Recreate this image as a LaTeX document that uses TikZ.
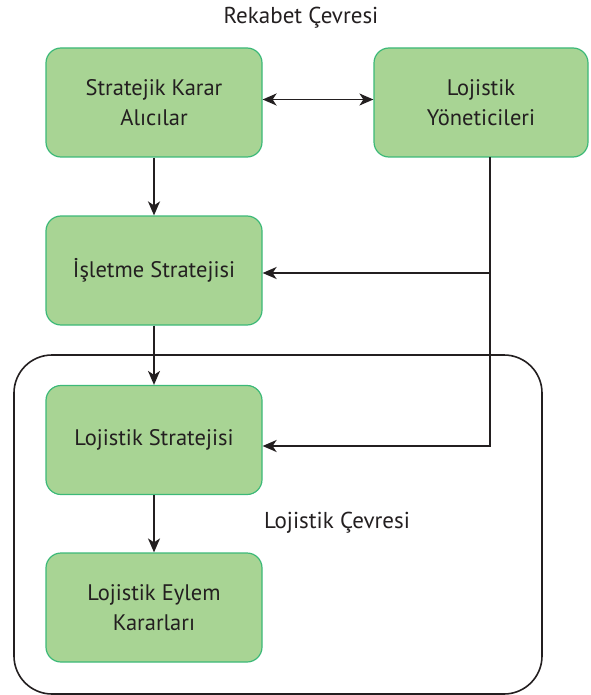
\documentclass[tikz,border=0pt]{standalone}
\usepackage{fontspec}
\setmainfont{PT Sans}
\usetikzlibrary{arrows.meta}
\definecolor{boxfill}{RGB}{168,212,148}
\definecolor{boxline}{RGB}{60,185,120}
\definecolor{ink}{RGB}{35,31,32}
\tikzset{
  tip/.tip={Stealth[length=14pt,width=12pt,inset=4pt]},
  greenbox/.style={draw=boxline, line width=1.2pt, fill=boxfill, rounded corners=15pt,
    minimum width=216pt, minimum height=109pt, align=center, text=ink,
    font=\fontsize{22.5}{30}\selectfont, inner sep=0pt},
  conn/.style={draw=ink, line width=1.8pt, -tip},
  biconn/.style={draw=ink, line width=1.8pt, tip-tip},
  frame/.style={draw=ink, line width=1.6pt, rounded corners=38pt},
  plain/.style={text=ink, font=\fontsize{23}{28}\selectfont, inner sep=0pt}
}
\begin{document}
\begin{tikzpicture}[x=1pt,y=1pt]
\useasboundingbox (0,0) rectangle (590,-695);
% outer frame (Lojistik Çevresi)
\draw[frame] (14,-355) rectangle (542,-694);
% labels
\node[plain] (rek) at (301,-18) {Rekabet Çevresi};
\node[plain] (loj) at (337,-523) {Lojistik Çevresi};
% boxes
\node[greenbox] (b1) at (154,-102.5) {Stratejik Karar\\Alıcılar};
\node[greenbox, minimum width=214pt] (b2) at (481,-102.5) {Lojistik\\Yöneticileri};
\node[greenbox] (b3) at (154,-270.5) {İşletme Stratejisi};
\node[greenbox] (b4) at (154,-440) {Lojistik Stratejisi};
\node[greenbox] (b5) at (154,-607.5) {Lojistik Eylem\\Kararları};
% connectors
\draw[biconn] ([yshift=3pt]b1.east) -- ([yshift=3pt]b2.west);
\draw[conn] (b1) -- (b3);
\draw[conn] (b3) -- (b4);
\draw[conn] (b4) -- (b5);
\coordinate (top) at (490,-157);
\coordinate (j1) at (490,-273);
\coordinate (j2) at (490,-446);
\draw[conn] (top) |- (j2 -| b4.east);
\draw[conn] (j1) -- (j1 -| b3.east);
\end{tikzpicture}
\end{document}
